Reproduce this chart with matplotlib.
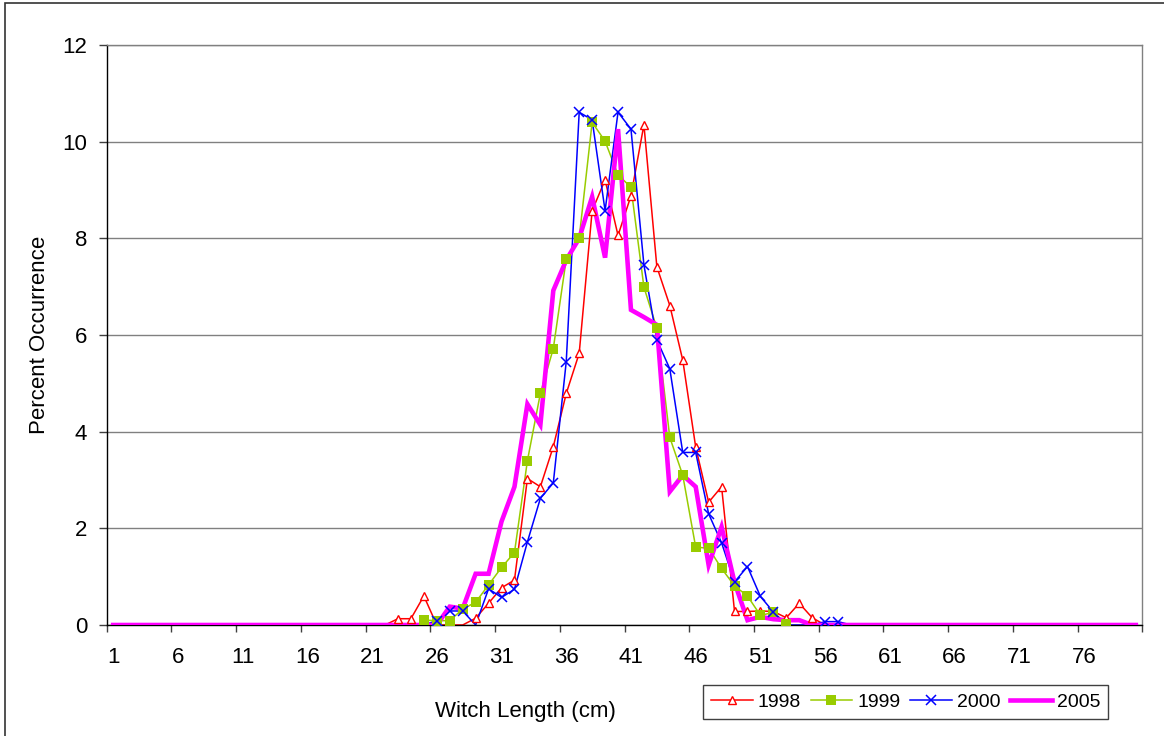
import numpy as np
import matplotlib
matplotlib.use("Agg")
import matplotlib.pyplot as plt
from matplotlib.patches import Rectangle

plt.rcParams['font.family'] = ['Liberation Sans', 'DejaVu Sans']

# Length classes (cm) shown on the category axis
lengths = list(range(1, 81))
tick_labels = [str(v) for v in range(1, 80, 5)]

# Percent occurrence per length class; each series starts at its first length
start_1998 = 22
pct_1998 = [0, 0.13, 0.13, 0.60, 0, 0, 0, 0.14, 0.45, 0.77, 0.93, 3.03, 2.86,
            3.69, 4.79, 5.62, 8.57, 9.21, 8.06, 8.88, 10.35, 7.41, 6.61, 5.48,
            3.68, 2.54, 2.86, 0.28, 0.28, 0.29, 0.28, 0.15, 0.45, 0.15, 0]

start_1999 = 25
pct_1999 = [0.10, 0.09, 0.09, 0.33, 0.47, 0.83, 1.19, 1.50, 3.40, 4.79, 5.72,
            7.57, 8.01, 10.40, 10.01, 9.31, 9.06, 6.99, 6.14, 3.88, 3.10, 1.61,
            1.59, 1.17, 0.81, 0.60, 0.20, 0.26, 0.03]

start_2000 = 25
pct_2000 = [0, 0.09, 0.29, 0.29, 0, 0.75, 0.57, 0.74, 1.72, 2.62, 2.94, 5.45,
            10.61, 10.45, 8.57, 10.61, 10.26, 7.45, 5.90, 5.30, 3.57, 3.57,
            2.30, 1.70, 0.89, 1.21, 0.59, 0.27, 0, 0, 0, 0.07, 0.07, 0]

start_2005 = 1
pct_2005 = [0] * 26 + [0.38, 0.34, 1.06, 1.06, 2.14, 2.86, 4.57, 4.14, 6.92,
                       7.55, 8.00, 8.86, 7.60, 10.26, 6.52, 6.37, 6.21, 2.76,
                       3.10, 2.86, 1.24, 2.03, 0.88, 0.10, 0.17, 0.12, 0.10,
                       0.10] + [0] * 26

years = ['1998', '1999', '2000', '2005']
starts = [start_1998, start_1999, start_2000, start_2005]
series = [pct_1998, pct_1999, pct_2000, pct_2005]
colors = ['#FF0000', '#99CC00', '#0000FF', '#FF00FF']


def full_series(start, vals):
    arr = np.full(len(lengths), np.nan)
    arr[start - 1:start - 1 + len(vals)] = vals
    return arr


fig = plt.figure(figsize=(11.64, 7.36), dpi=100)
ax = fig.add_axes([106.7 / 1164, 1 - 625 / 736, 1035.6 / 1164, 580 / 736])

x = np.array(lengths, dtype=float)
handles = []
styles = [
    dict(marker='^', ms=6, mfc='white', mew=1.0, lw=1.1),
    dict(marker='s', ms=6.5, mfc='#99CC00', mew=0, lw=1.1),
    dict(marker='x', ms=7.5, mew=1.1, lw=1.1),
]
for i, (yr, st, vals, col) in enumerate(zip(years, starts, series, colors)):
    y = full_series(st, vals)
    if yr == '2005':
        h, = ax.plot(x, y, color=col, lw=3.3, zorder=3, solid_joinstyle='miter',
                     label=yr)
    else:
        sty = styles[i]
        ax.plot(x, y, color=col, lw=sty['lw'], zorder=2)
        mask = np.nan_to_num(y) > 0
        ax.plot(x[mask], y[mask], ls='none', color=col, marker=sty['marker'],
                ms=sty['ms'], mfc=sty['mfc'] if 'mfc' in sty else col,
                mec=col, mew=sty['mew'], zorder=4)
        h, = ax.plot([], [], color=col, lw=sty['lw'], marker=sty['marker'],
                     ms=sty['ms'], mfc=sty.get('mfc', col), mec=col,
                     mew=sty['mew'], label=yr)
    handles.append(h)

ax.set_xlim(0.5, 80.5)
ax.set_ylim(0, 12)

# Category axis: ticks between classes, labels centred on every fifth class
ax.set_xticks(np.arange(0.5, 81, 5))
ax.set_xticklabels([])
ax.set_xticks(np.arange(1, 80, 5), minor=True)
ax.set_xticklabels(tick_labels, minor=True)
ax.tick_params(axis='x', which='major', direction='out', length=5, width=1,
               color='#404040')
ax.tick_params(axis='x', which='minor', length=0, pad=16, labelsize=16)

ax.set_yticks(np.arange(0, 13, 2))
ax.set_yticklabels([str(v) for v in range(0, 13, 2)])
ax.tick_params(axis='y', direction='out', length=6, width=1, color='#404040',
               pad=8, labelsize=16)

ax.yaxis.grid(True, color='#808080', lw=1)
ax.set_axisbelow(True)
for side in ['top', 'right']:
    ax.spines[side].set_color('#808080')
    ax.spines[side].set_linewidth(1)
for side in ['left', 'bottom']:
    ax.spines[side].set_color('black')
    ax.spines[side].set_linewidth(1)

fig.text(40 / 1164, 1 - 335 / 736, 'Percent Occurrence', rotation=90,
         ha='center', va='center', fontsize=16)
fig.text(525 / 1164, 1 - 711 / 736, 'Witch Length (cm)', ha='center',
         va='center', fontsize=16)

leg = fig.legend(handles=handles, loc='center',
                 bbox_to_anchor=(905.5 / 1164, 1 - 702 / 736), ncol=4,
                 fontsize=14, frameon=True, fancybox=False, framealpha=1,
                 edgecolor='#404040', handlelength=2.15, handletextpad=0.25,
                 columnspacing=0.5, borderpad=0.4)
leg.get_frame().set_linewidth(1)

# Chart border
fig.patches.append(Rectangle((5 / 1164, -0.05), 1.2, 1 - 3 / 736 + 0.05,
                             transform=fig.transFigure, fill=False,
                             edgecolor='#333333', lw=1.2))

fig.savefig('out.png', dpi=100)
